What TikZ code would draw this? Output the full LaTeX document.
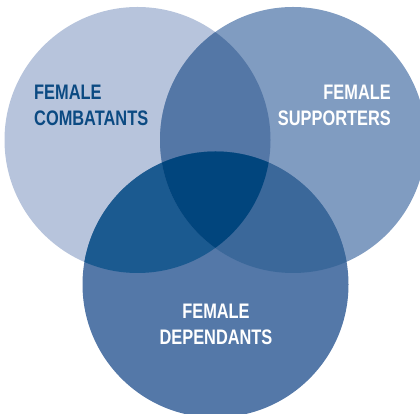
\documentclass[tikz,border=0pt]{standalone}
\usepackage{fontspec}
\setmainfont{Liberation Sans}
\newfontfamily\condfont[FakeStretch=0.78]{Liberation Sans}
\definecolor{cL}{HTML}{B7C4DC}
\definecolor{cR}{HTML}{809CC1}
\definecolor{cB}{HTML}{5478A8}
\definecolor{cLR}{HTML}{5477A6}
\definecolor{cLB}{HTML}{1B5A90}
\definecolor{cRB}{HTML}{3B689A}
\definecolor{cLRB}{HTML}{01457D}
\definecolor{txtdark}{HTML}{0B4A82}
\tikzset{
  lbl/.style={inner sep=0pt, font=\condfont\bfseries\fontsize{21}{21}\selectfont},
}
\begin{document}
\begin{tikzpicture}[x=1pt,y=1pt]
\useasboundingbox (0,0) rectangle (420,414);
\clip (0,0) rectangle (420,414);
\coordinate (L) at (137.5,274);
\coordinate (R) at (293,274);
\coordinate (B) at (215.5,129.5);
\def\rad{133}
% single circles
\fill[cL] (L) circle (\rad);
\fill[cR] (R) circle (\rad);
\fill[cB] (B) circle (\rad);
% pairwise intersections
\begin{scope}
  \clip (L) circle (\rad);
  \fill[cLR] (R) circle (\rad);
  \fill[cLB] (B) circle (\rad);
\end{scope}
\begin{scope}
  \clip (R) circle (\rad);
  \fill[cRB] (B) circle (\rad);
\end{scope}
% triple intersection
\begin{scope}
  \clip (L) circle (\rad);
  \clip (R) circle (\rad);
  \fill[cLRB] (B) circle (\rad);
\end{scope}
% labels
\node[lbl, text=txtdark, anchor=base west] (l1) at (34,314) {FEMALE};
\node[lbl, text=txtdark, anchor=base west] (l2) at (34,288) {COMBATANTS};
\node[lbl, text=white, anchor=base east] (r1) at (391,314) {FEMALE};
\node[lbl, text=white, anchor=base east] (r2) at (391,288) {SUPPORTERS};
\node[lbl, text=white, anchor=base] (b1) at (216,95) {FEMALE};
\node[lbl, text=white, anchor=base] (b2) at (216,69) {DEPENDANTS};
\end{tikzpicture}
\end{document}
